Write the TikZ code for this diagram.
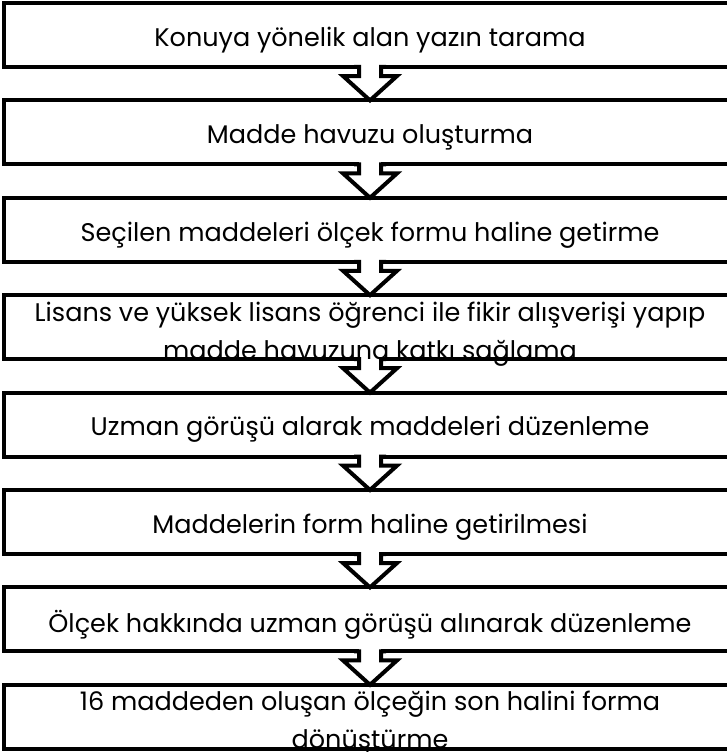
\documentclass[tikz,border=0pt]{standalone}
\usepackage{fontspec}
\setmainfont{Poppins}
\usetikzlibrary{calc}
\tikzset{
  box/.style={draw=black, line width=4pt, fill=white, rectangle, outer sep=0pt, inner sep=0pt,
    minimum width=732pt, minimum height=64pt},
  lbl/.style={align=center, inner sep=0pt, font=\fontsize{25.5}{38}\selectfont, text=black},
  arrline/.style={draw=black, line width=4pt, line join=miter},
}
\newcommand\flowarrow[2]{%
  \fill[white] ($(#1.south)+(-11,-4)$) rectangle ($(#1.south)+(11,9)$);
  \path[arrline] ($(#1.south)+(-16,0)$) -- ($(#1.south)+(-11,0)$) -- ($(#1.south)+(-11,9)$)
     -- ($(#1.south)+(-27,9)$) -- (#2.north) -- ($(#1.south)+(27,9)$)
     -- ($(#1.south)+(11,9)$) -- ($(#1.south)+(11,0)$) -- ($(#1.south)+(16,0)$);
}
\begin{document}
\begin{tikzpicture}[x=1pt,y=-1pt]
\useasboundingbox (0,0) rectangle (727,752);
\fill[white] (0,0) rectangle (727,752);
\foreach \i/\t in {1/3, 2/100.4, 3/197.8, 4/295.2, 5/392.6, 6/490, 7/587.4, 8/684.8}{
  \node[box] (b\i) at (370,\t+32) {};
}
\flowarrow{b1}{b2}
\flowarrow{b2}{b3}
\flowarrow{b3}{b4}
\flowarrow{b4}{b5}
\flowarrow{b5}{b6}
\flowarrow{b6}{b7}
\flowarrow{b7}{b8}
\node[lbl] (t1) at ($(b1.center)+(0,5)$) {Konuya yönelik alan yazın tarama};
\node[lbl] (t2) at ($(b2.center)+(0,5)$) {Madde havuzu oluşturma};
\node[lbl] (t3) at ($(b3.center)+(0,5)$) {Seçilen maddeleri ölçek formu haline getirme};
\node[lbl] (t4) at ($(b4.center)+(0,6.5)$) {Lisans ve yüksek lisans öğrenci ile fikir alışverişi yapıp\\madde havuzuna katkı sağlama};
\node[lbl] (t5) at ($(b5.center)+(0,5)$) {Uzman görüşü alarak maddeleri düzenleme};
\node[lbl] (t6) at ($(b6.center)+(0,5)$) {Maddelerin form haline getirilmesi};
\node[lbl] (t7) at ($(b7.center)+(0,5)$) {Ölçek hakkında uzman görüşü alınarak düzenleme};
\node[lbl] (t8) at ($(b8.center)+(0,6.5)$) {16 maddeden oluşan ölçeğin son halini forma\\dönüştürme};
\end{tikzpicture}
\end{document}
